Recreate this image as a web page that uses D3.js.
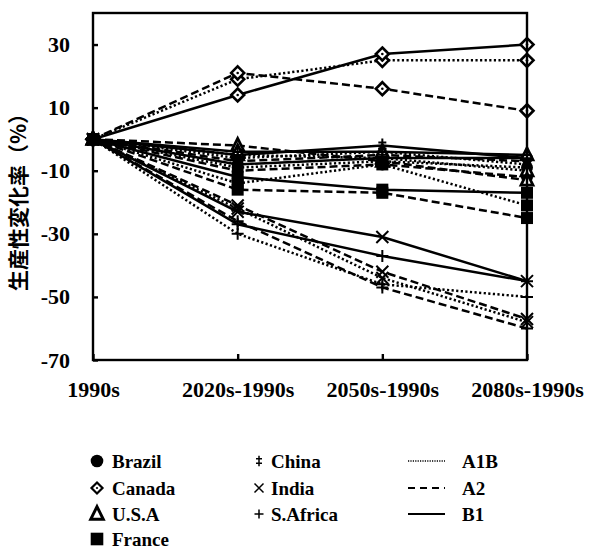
<!DOCTYPE html>
<html>
<head>
<meta charset="utf-8">
<script src="https://cdn.jsdelivr.net/npm/d3@7"></script>
<style>
  body { margin: 0; background: #fff; }
  svg { display: block; }
  text { fill: #000; }
</style>
</head>
<body>
<div id="chart"></div>
<script>
// periods on the x axis
var periods = ["1990s", "2020s-1990s", "2050s-1990s", "2080s-1990s"];
var scenarios = ["A1B", "A2", "B1"];
var yTicks = [30, 10, -10, -30, -50, -70];

// one row per scenario: A1B, A2, B1
var brazil  = [[0, -9, -7, -9],   [0, -10, -8, -12],  [0, -8, -6, -6]];
var canada  = [[0, 19, 25, 25],   [0, 21, 16, 9],     [0, 14, 27, 30]];
var usa     = [[0, -5, -6, -10],  [0, -2, -7, -13],   [0, -4, -4, -5]];
var france  = [[0, -14, -8, -21], [0, -16, -17, -25], [0, -12, -16, -17]];
var china   = [[0, -6, -4, -8],   [0, -7, -5, -7],    [0, -5, -2, -6]];
var india   = [[0, -22, -44, -58],[0, -21, -42, -57], [0, -23, -31, -45]];
var safrica = [[0, -30, -46, -50],[0, -26, -47, -60], [0, -27, -37, -45]];

var countries = [
  {name: "Brazil", mark: "circle", values: brazil},
  {name: "Canada", mark: "diamond", values: canada},
  {name: "U.S.A", mark: "triangle", values: usa},
  {name: "France", mark: "square", values: france},
  {name: "China", mark: "dagger", values: china},
  {name: "India", mark: "x", values: india},
  {name: "S.Africa", mark: "plus", values: safrica}
];

var dashes = {"A1B": "2.2,2.4", "A2": "8,4", "B1": null};

var width = 590, height = 552;
var svg = d3.select("#chart").append("svg")
    .attr("width", width)
    .attr("height", height);

var x = d3.scalePoint().domain(periods).range([93, 527]);
var y = d3.scaleLinear().domain([-70, 40]).range([360, 13]);

// lines
var line = d3.line()
    .x(function(d, i) { return x(periods[i]); })
    .y(function(d) { return y(d); });

var lines = svg.append("g");
countries.forEach(function(c) {
  c.values.forEach(function(v, s) {
    lines.append("path")
      .attr("d", line(v))
      .attr("fill", "none")
      .attr("stroke", "#000")
      .attr("stroke-width", 2.5)
      .attr("stroke-dasharray", dashes[scenarios[s]]);
  });
});

function marker(g, type, cx, cy, k) {
  k = k || 1;
  var m = g.append("g").attr("transform", "translate(" + cx + "," + cy + ") scale(" + k + ")");
  if (type == "circle") {
    m.append("circle").attr("r", 6).attr("fill", "#000");
  } else if (type == "square") {
    m.append("rect").attr("x", -6).attr("y", -6).attr("width", 12).attr("height", 12).attr("fill", "#000");
  } else if (type == "diamond") {
    m.append("path").attr("d", "M0,-6.5L6.5,0L0,6.5L-6.5,0Z")
      .attr("fill", "#fff").attr("stroke", "#000").attr("stroke-width", 2.6);
    m.append("circle").attr("r", 1.3).attr("fill", "#000");
  } else if (type == "triangle") {
    m.append("path").attr("d", "M0,-7L6,5L-6,5Z")
      .attr("fill", "#fff").attr("stroke", "#000").attr("stroke-width", 2.8);
  } else if (type == "x") {
    m.append("path").attr("d", "M-6,-6L6,6M-6,6L6,-6")
      .attr("stroke", "#000").attr("stroke-width", 2);
  } else if (type == "plus") {
    m.append("path").attr("d", "M-6,0L6,0M0,-6L0,6")
      .attr("stroke", "#000").attr("stroke-width", 2);
  } else if (type == "dagger") {
    m.append("path").attr("d", "M0,-7L0,7M-4,-3L4,-3M-4,3L4,3")
      .attr("stroke", "#000").attr("stroke-width", 2);
  }
}

var marks = svg.append("g");
countries.forEach(function(c) {
  c.values.forEach(function(v) {
    v.forEach(function(d, i) {
      marker(marks, c.mark, x(periods[i]), y(d));
    });
  });
});

// frame
svg.append("rect")
  .attr("x", 93).attr("y", 13)
  .attr("width", 527 - 93).attr("height", 360 - 13)
  .attr("fill", "none").attr("stroke", "#000").attr("stroke-width", 2.4);

// axes
var yAxis = svg.append("g")
    .attr("transform", "translate(93,0)")
    .call(d3.axisLeft(y).tickValues(yTicks).tickSize(-5).tickPadding(23)
      .tickFormat(function(d) { return String(d); }));
yAxis.select(".domain").remove();
yAxis.selectAll("line").attr("stroke-width", 2.4);
yAxis.selectAll("text")
    .style("font-family", "'Liberation Serif', serif")
    .style("font-weight", "bold")
    .style("font-size", "22px");

var xAxis = svg.append("g")
    .attr("transform", "translate(0,360)")
    .call(d3.axisBottom(x).tickSize(-6).tickPadding(21));
xAxis.select(".domain").remove();
xAxis.selectAll("line").attr("stroke-width", 2.4);
xAxis.selectAll("text")
    .style("font-family", "'Liberation Serif', serif")
    .style("font-weight", "bold")
    .style("font-size", "22px");

// y title
svg.append("text")
    .attr("transform", "translate(26,197) rotate(-90)")
    .attr("text-anchor", "middle")
    .style("font-family", "'Noto Sans CJK JP', sans-serif")
    .style("font-weight", "bold")
    .style("font-size", "21px")
    .text("生産性変化率（%）");

// legend
var lg = svg.append("g")
    .style("font-family", "'Liberation Serif', serif")
    .style("font-weight", "bold")
    .style("font-size", "19px");
var rowY = [461, 488, 514, 539];
countries.forEach(function(c, i) {
  var col = i < 4 ? 0 : 1;
  var row = i < 4 ? i : i - 4;
  var mx = col == 0 ? 97 : 259;
  var k = col == 0 ? (c.mark == "diamond" ? 0.85 : 1.05) : 0.75;
  marker(lg, c.mark, mx, rowY[row], k);
  lg.append("text")
    .attr("x", mx + (col == 0 ? 15 : 12))
    .attr("y", rowY[row])
    .attr("dy", "0.35em")
    .text(c.name);
});
scenarios.forEach(function(s, i) {
  lg.append("line")
    .attr("x1", 408).attr("x2", 445)
    .attr("y1", rowY[i]).attr("y2", rowY[i])
    .attr("stroke", "#000")
    .attr("stroke-width", s == "A1B" ? 1.6 : 2.2)
    .attr("stroke-dasharray", s == "A1B" ? "1.2,1.2" : (s == "A2" ? "7,5" : null));
  lg.append("text")
    .attr("x", 462)
    .attr("y", rowY[i])
    .attr("dy", "0.35em")
    .text(s);
});
</script>
</body>
</html>
